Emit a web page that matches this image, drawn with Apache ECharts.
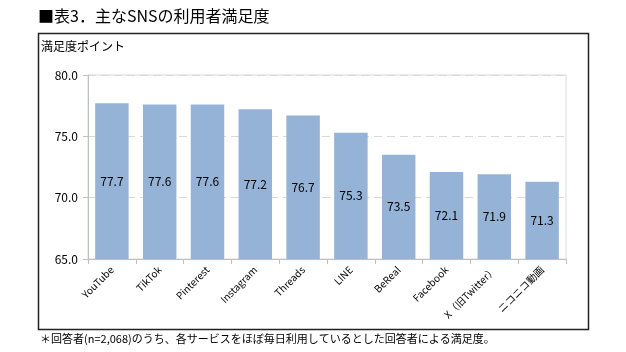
<!DOCTYPE html>
<html><head><meta charset="utf-8">
<script src="https://cdn.jsdelivr.net/npm/echarts@6/dist/echarts.min.js"></script>
<style>html,body{margin:0;padding:0;background:#fff}#c{width:626px;height:352px}</style>
</head><body><div id="c"></div>
<script>
const categories = ["YouTube","TikTok","Pinterest","Instagram","Threads","LINE","BeReal","Facebook","X（旧Twitter）","ニコニコ動画"];
const values = [77.7,77.6,77.6,77.2,76.7,75.3,73.5,72.1,71.9,71.3];
const yTicks = [65,70,75,80];
const F = '"Noto Sans CJK JP", sans-serif';
const chart = echarts.init(document.getElementById('c'));
chart.setOption({
  animation:false,
  textStyle:{fontFamily:F},
  graphic:[
    {type:'rect',shape:{x:38.5,y:33.5,width:550,height:296},style:{fill:'none',stroke:'#222',lineWidth:1.5},z:-1},
    {type:'text',left:38,top:8,style:{text:'■表3．主なSNSの利用者満足度',font:'16px '+F,fill:'#000'}},
    {type:'text',left:41,top:40,style:{text:'満足度ポイント',font:'12px '+F,fill:'#000'}},
    {type:'text',left:40,top:333,style:{text:'＊回答者(n=2,068)のうち、各サービスをほぼ毎日利用しているとした回答者による満足度。',font:'11px '+F,fill:'#000'}}
  ],
  grid:{left:88,right:60,top:75,bottom:93,show:true,borderColor:'#d9d9d9',borderWidth:1},
  xAxis:{type:'category',data:categories,
    axisLine:{lineStyle:{color:'#bfbfbf'}},
    axisTick:{show:true,alignWithLabel:false,length:5,lineStyle:{color:'#bfbfbf'}},
    axisLabel:{rotate:45,fontSize:10,color:'#000',margin:9,interval:0,fontFamily:F}},
  yAxis:{type:'value',min:yTicks[0],max:yTicks[yTicks.length-1],interval:5,
    axisLine:{show:true,lineStyle:{color:'#bfbfbf'}},
    axisTick:{show:true,length:5,lineStyle:{color:'#bfbfbf'}},
    axisLabel:{formatter:v=>v.toFixed(1),fontSize:12,color:'#000',margin:10,fontFamily:F},
    splitLine:{show:true,lineStyle:{color:'#d9d9d9',type:[8,5]}}},
  series:[{type:'bar',data:values,barCategoryGap:'30%',
    itemStyle:{color:'#95b3d7'},
    label:{show:true,position:'inside',formatter:p=>p.value.toFixed(1),color:'#000',fontSize:12,fontFamily:F}}]
});
</script></body></html>
